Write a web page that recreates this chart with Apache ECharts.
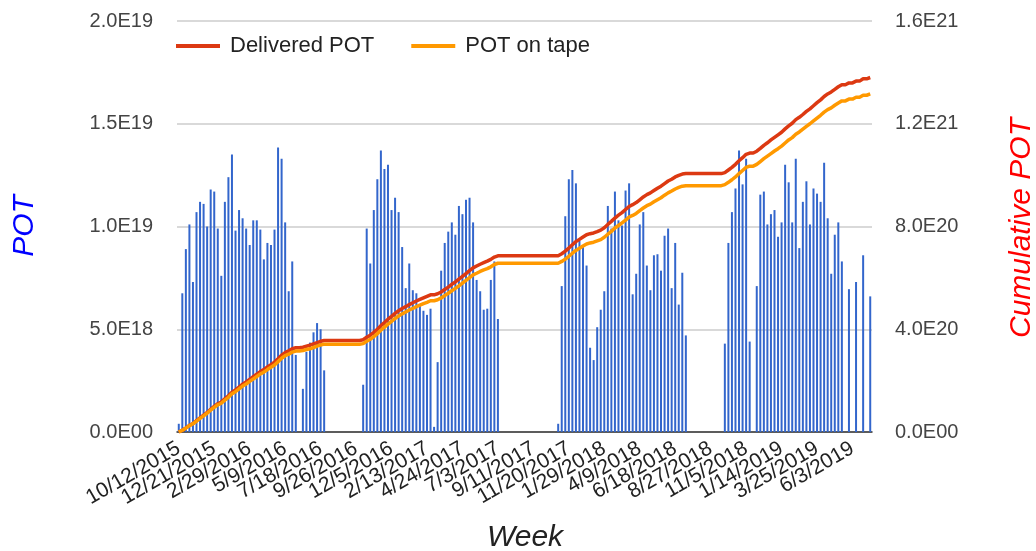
<!DOCTYPE html>
<html>
<head>
<meta charset="utf-8">
<script src="https://cdn.jsdelivr.net/npm/echarts@6/dist/echarts.min.js"></script>
<style>
html,body{margin:0;padding:0;background:#fff;}
#chart{width:1036px;height:551px;}
</style>
</head>
<body>
<div id="chart"></div>
<script>
// Weekly POT (units of 1E18), one entry per week starting 10/12/2015; null = no beam that week
const weeklyPOT = [
  0.4, 6.75, 8.9, 10.1, 7.3, 10.7, 11.2, 11.1, 10.0, 11.8,
  11.7, 9.9, 7.6, 11.2, 12.4, 13.5, 9.8, 10.8, 10.4, 9.9,
  9.1, 10.3, 10.3, 9.85, 8.4, 9.2, 9.1, 9.85, 13.85, 13.3,
  10.2, 6.85, 8.3, 3.75, null, 2.1, 3.9, 4.35, 4.85, 5.3,
  5.0, 3.0, null, null, null, null, null, null, null, null,
  null, null, 2.3, 9.9, 8.2, 10.8, 12.3, 13.7, 12.8, 13.0,
  10.8, 11.4, 10.7, 9.0, 7.0, 8.2, 6.9, 6.75, 6.2, 5.9,
  5.7, 6.0, 0.25, 3.4, 7.85, 9.2, 9.75, 10.2, 9.6, 11.0,
  10.6, 11.3, 11.4, 10.2, 7.4, 6.85, 5.95, 6.0, 7.4, 8.3,
  5.5, null, null, null, null, null, null, null, null, null,
  null, null, null, null, null, null, null, 0.4, 7.1, 10.5,
  12.3, 12.75, 12.1, 9.3, 9.0, 8.1, 4.1, 3.5, 5.1, 5.95,
  6.85, 11.0, 9.9, 11.7, 10.3, 10.05, 11.75, 12.1, 6.7, 7.7,
  10.1, 10.7, 8.1, 6.9, 8.6, 8.65, 7.85, 9.55, 9.9, 7.0,
  9.2, 6.2, 7.75, 4.7, null, null, null, null, null, null,
  null, null, null, null, 4.3, 9.2, 10.7, 11.85, 13.7, 12.05,
  13.3, 4.4, null, 7.1, 11.55, 11.7, 10.1, 10.6, 10.8, 9.5,
  10.2, 13.0, 12.15, 10.2, 13.3, 8.95, 11.2, 12.2, 10.1, 11.85,
  11.6, 11.2, 13.1, 10.4, 7.7, 9.6, 10.2, 8.3, null, 6.95,
  null, 7.3, null, 8.6, null, 6.6
];

// Cumulative delivered POT (units of 1E20)
const deliveredCum = [
  0.00, 0.07, 0.16, 0.26, 0.33, 0.44, 0.55, 0.66, 0.76, 0.88,
  1.00, 1.10, 1.17, 1.29, 1.41, 1.55, 1.64, 1.75, 1.86, 1.95,
  2.05, 2.15, 2.25, 2.35, 2.43, 2.53, 2.62, 2.72, 2.85, 2.99,
  3.09, 3.16, 3.24, 3.28, 3.28, 3.30, 3.34, 3.38, 3.43, 3.48,
  3.53, 3.56, 3.56, 3.56, 3.56, 3.56, 3.56, 3.56, 3.56, 3.56,
  3.56, 3.56, 3.59, 3.69, 3.77, 3.88, 4.00, 4.14, 4.26, 4.39,
  4.50, 4.62, 4.72, 4.81, 4.88, 4.96, 5.03, 5.10, 5.16, 5.22,
  5.28, 5.34, 5.34, 5.38, 5.45, 5.55, 5.64, 5.75, 5.84, 5.95,
  6.06, 6.17, 6.28, 6.39, 6.46, 6.53, 6.59, 6.65, 6.72, 6.81,
  6.86, 6.86, 6.86, 6.86, 6.86, 6.86, 6.86, 6.86, 6.86, 6.86,
  6.86, 6.86, 6.86, 6.86, 6.86, 6.86, 6.86, 6.86, 6.94, 7.04,
  7.16, 7.29, 7.41, 7.50, 7.59, 7.68, 7.72, 7.75, 7.80, 7.86,
  7.95, 8.08, 8.20, 8.33, 8.44, 8.54, 8.66, 8.78, 8.85, 8.93,
  9.04, 9.15, 9.24, 9.31, 9.40, 9.49, 9.57, 9.67, 9.77, 9.84,
  9.93, 9.99, 10.04, 10.06, 10.06, 10.06, 10.06, 10.06, 10.06, 10.06,
  10.06, 10.06, 10.06, 10.06, 10.10, 10.20, 10.30, 10.42, 10.56, 10.68,
  10.81, 10.86, 10.86, 10.93, 11.04, 11.16, 11.26, 11.37, 11.47, 11.57,
  11.67, 11.80, 11.92, 12.02, 12.16, 12.25, 12.36, 12.48, 12.58, 12.70,
  12.82, 12.93, 13.06, 13.16, 13.24, 13.34, 13.44, 13.52, 13.52, 13.59,
  13.59, 13.66, 13.66, 13.75, 13.75, 13.80
];

// Cumulative POT on tape (units of 1E20)
const onTapeCum = [
  0.00, 0.07, 0.15, 0.25, 0.32, 0.42, 0.53, 0.63, 0.73, 0.85,
  0.96, 1.06, 1.12, 1.24, 1.35, 1.49, 1.57, 1.68, 1.79, 1.87,
  1.97, 2.06, 2.16, 2.26, 2.33, 2.43, 2.52, 2.61, 2.74, 2.87,
  2.97, 3.03, 3.11, 3.15, 3.15, 3.17, 3.21, 3.24, 3.29, 3.34,
  3.39, 3.42, 3.42, 3.42, 3.42, 3.42, 3.42, 3.42, 3.42, 3.42,
  3.42, 3.42, 3.44, 3.53, 3.61, 3.71, 3.83, 3.96, 4.08, 4.20,
  4.31, 4.42, 4.52, 4.60, 4.67, 4.75, 4.81, 4.88, 4.94, 5.00,
  5.05, 5.11, 5.11, 5.15, 5.22, 5.31, 5.40, 5.50, 5.59, 5.69,
  5.80, 5.90, 6.01, 6.12, 6.18, 6.25, 6.31, 6.36, 6.43, 6.52,
  6.57, 6.57, 6.57, 6.57, 6.57, 6.57, 6.57, 6.57, 6.57, 6.57,
  6.57, 6.57, 6.57, 6.57, 6.57, 6.57, 6.57, 6.57, 6.64, 6.73,
  6.84, 6.96, 7.07, 7.15, 7.24, 7.32, 7.36, 7.39, 7.44, 7.49,
  7.58, 7.70, 7.81, 7.94, 8.04, 8.14, 8.25, 8.37, 8.43, 8.51,
  8.62, 8.72, 8.81, 8.87, 8.96, 9.04, 9.12, 9.22, 9.31, 9.38,
  9.46, 9.52, 9.57, 9.59, 9.59, 9.59, 9.59, 9.59, 9.59, 9.59,
  9.59, 9.59, 9.59, 9.59, 9.63, 9.72, 9.82, 9.93, 10.06, 10.18,
  10.30, 10.35, 10.35, 10.42, 10.53, 10.64, 10.74, 10.84, 10.94, 11.03,
  11.13, 11.25, 11.37, 11.46, 11.59, 11.68, 11.79, 11.90, 12.00, 12.11,
  12.22, 12.33, 12.45, 12.55, 12.62, 12.72, 12.81, 12.89, 12.89, 12.96,
  12.96, 13.03, 13.03, 13.11, 13.11, 13.16
];

// x-axis tick labels shown on the chart
const xTickLabels = [
  '10/12/2015','12/21/2015','2/29/2016','5/9/2016','7/18/2016','9/26/2016',
  '12/5/2016','2/13/2017','4/24/2017','7/3/2017','9/11/2017','11/20/2017',
  '1/29/2018','4/9/2018','6/18/2018','8/27/2018','11/5/2018','1/14/2019',
  '3/25/2019','6/3/2019'
];

// weekly categories (Mondays), starting at the first tick label
const firstWeek = Date.UTC(2015, 9, 12);
const weeks = weeklyPOT.map((_, i) => {
  const d = new Date(firstWeek + i * 7 * 86400000);
  return (d.getUTCMonth() + 1) + '/' + d.getUTCDate() + '/' + d.getUTCFullYear();
});

const LEFT_UNIT = 1e18, RIGHT_UNIT = 1e20;
function sci(v) {
  const s = v.toExponential(1);
  const parts = s.split('e');
  const e = parseInt(parts[1], 10);
  const ea = Math.abs(e);
  return parts[0] + 'E' + (e < 0 ? '-' : '') + (ea < 10 ? '0' : '') + ea;
}

const FONT = '"Liberation Sans", Arial, sans-serif';
const chart = echarts.init(document.getElementById('chart'), null, {renderer: 'canvas'});
chart.setOption({
  animation: false,
  backgroundColor: '#ffffff',
  textStyle: {fontFamily: FONT},
  grid: {left: 177, right: 164, top: 21, bottom: 119, containLabel: false},
  legend: {
    left: 176, top: 35, padding: 0,
    data: ['Delivered POT', 'POT on tape'],
    icon: 'rect', itemWidth: 44, itemHeight: 4, itemGap: 37,
    textStyle: {fontSize: 22, color: '#222', fontFamily: FONT, padding: [0, 0, 0, 5]}
  },
  xAxis: {
    type: 'category',
    data: weeks,
    boundaryGap: true,
    axisLine: {lineStyle: {color: '#333', width: 1.5}},
    axisTick: {show: false},
    axisLabel: {
      interval: 0, hideOverlap: false,
      formatter: (v) => (xTickLabels.indexOf(v) >= 0 ? v : ''),
      rotate: 30, margin: 15, fontSize: 21, color: '#222', fontFamily: FONT
    },
    splitLine: {show: false}
  },
  yAxis: [
    {
      type: 'value', min: 0, max: 20, interval: 5, position: 'left',
      axisLine: {show: false}, axisTick: {show: false},
      axisLabel: {margin: 24, fontSize: 20, color: '#444', fontFamily: FONT,
        formatter: (v) => sci(v * LEFT_UNIT)},
      splitLine: {lineStyle: {color: '#cccccc', width: 1.5}}
    },
    {
      type: 'value', min: 0, max: 16, interval: 4, position: 'right',
      axisLine: {show: false}, axisTick: {show: false},
      axisLabel: {margin: 23, fontSize: 20, color: '#444', fontFamily: FONT,
        formatter: (v) => sci(v * RIGHT_UNIT)},
      splitLine: {show: false}
    }
  ],
  series: [
    {
      name: 'POT', type: 'bar', yAxisIndex: 0,
      data: weeklyPOT, barWidth: 2,
      itemStyle: {color: '#3366cc'}, z: 1
    },
    {
      name: 'Delivered POT', type: 'line', yAxisIndex: 1,
      data: deliveredCum, showSymbol: false, symbol: 'none',
      lineStyle: {color: '#dc3912', width: 3.5}, itemStyle: {color: '#dc3912'}, z: 3
    },
    {
      name: 'POT on tape', type: 'line', yAxisIndex: 1,
      data: onTapeCum, showSymbol: false, symbol: 'none',
      lineStyle: {color: '#ff9900', width: 3.5}, itemStyle: {color: '#ff9900'}, z: 4
    }
  ],
  graphic: [
    {type: 'text', x: 25, y: 226, rotation: Math.PI / 2,
      style: {text: 'POT', fill: '#0000ff', font: 'italic 30px ' + FONT, textAlign: 'center', textVerticalAlign: 'middle'}},
    {type: 'text', x: 1022, y: 228, rotation: Math.PI / 2,
      style: {text: 'Cumulative POT', fill: '#ff0000', font: 'italic 30px ' + FONT, textAlign: 'center', textVerticalAlign: 'middle'}},
    {type: 'text', x: 525, y: 538,
      style: {text: 'Week', fill: '#222', font: 'italic 30px ' + FONT, textAlign: 'center', textVerticalAlign: 'middle'}}
  ]
});
</script>
</body>
</html>
